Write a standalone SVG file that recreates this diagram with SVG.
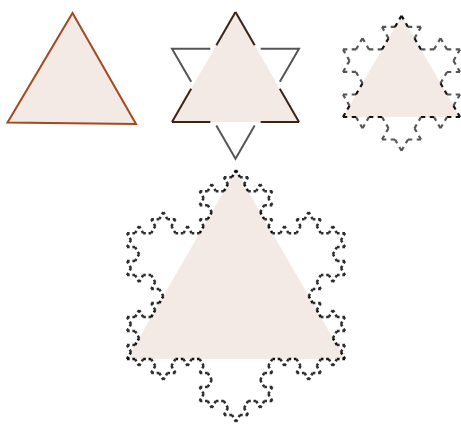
<svg xmlns="http://www.w3.org/2000/svg" xmlns:xlink="http://www.w3.org/1999/xlink" width="461" height="424" viewBox="0 0 461 424">
<style>
.fill{fill:#f3e9e5;stroke:none}
.dk1{stroke:#3a2214;stroke-width:2;fill:none;stroke-linecap:butt}
.gr1{stroke:#555;stroke-width:2;fill:none;stroke-linecap:butt}
.seg{fill:none;stroke-linecap:butt}
</style>
<defs>
<path id="k0" class="seg" d="M0,0 H0.33 M0.67,0 H1" vector-effect="non-scaling-stroke"/>
<g id="k1">
<use xlink:href="#k0" href="#k0" transform="scale(0.333333)"/>
<use xlink:href="#k0" href="#k0" transform="translate(0.333333,0) rotate(-60) scale(0.333333)" style="stroke:var(--off)"/>
<use xlink:href="#k0" href="#k0" transform="translate(0.5,-0.288675) rotate(60) scale(0.333333)" style="stroke:var(--off)"/>
<use xlink:href="#k0" href="#k0" transform="translate(0.666667,0) scale(0.333333)"/>
</g>
<g id="k2">
<use xlink:href="#k1" href="#k1" transform="scale(0.333333)"/>
<use xlink:href="#k1" href="#k1" transform="translate(0.333333,0) rotate(-60) scale(0.333333)" style="stroke:var(--off)"/>
<use xlink:href="#k1" href="#k1" transform="translate(0.5,-0.288675) rotate(60) scale(0.333333)" style="stroke:var(--off)"/>
<use xlink:href="#k1" href="#k1" transform="translate(0.666667,0) scale(0.333333)"/>
</g>
<g id="k3">
<use xlink:href="#k2" href="#k2" transform="scale(0.333333)"/>
<use xlink:href="#k2" href="#k2" transform="translate(0.333333,0) rotate(-60) scale(0.333333)" style="stroke:var(--off)"/>
<use xlink:href="#k2" href="#k2" transform="translate(0.5,-0.288675) rotate(60) scale(0.333333)" style="stroke:var(--off)"/>
<use xlink:href="#k2" href="#k2" transform="translate(0.666667,0) scale(0.333333)"/>
</g>
</defs>
<rect width="461" height="424" fill="#ffffff"/>

<g id="iter0">
<polygon points="72.5,13 136,124 7.5,122.5" fill="#f3e9e5" stroke="#a3481f" stroke-width="2" stroke-linejoin="miter"/>
</g>

<g id="iter1">
<polygon class="fill" points="235.5,12 299,122 172,122"/>
<line class="dk1" x1="235.5" y1="12" x2="254.67" y2="45.2"/>
<line class="dk1" x1="279.83" y1="88.8" x2="299" y2="122"/>
<line class="dk1" x1="299" y1="122" x2="260.67" y2="122"/>
<line class="dk1" x1="210.33" y1="122" x2="172" y2="122"/>
<line class="dk1" x1="172" y1="122" x2="191.17" y2="88.8"/>
<line class="dk1" x1="216.33" y1="45.2" x2="235.5" y2="12"/>
<polyline class="gr1" points="260.67,48.67 299,48.67 279.83,81.87"/>
<polyline class="gr1" points="254.67,125.46 235.5,158.66 216.33,125.46"/>
<polyline class="gr1" points="191.17,81.87 172,48.67 210.33,48.67"/>
</g>

<g id="iter2" style="stroke:#111;--off:#555;stroke-width:2.2">
<polygon class="fill" points="401.5,15.7 460,117 343,117"/>
<use xlink:href="#k2" href="#k2" transform="translate(401.5,15.7) rotate(60) scale(117)"/>
<use xlink:href="#k2" href="#k2" transform="translate(460,117) rotate(180) scale(117)"/>
<use xlink:href="#k2" href="#k2" transform="translate(343,117) rotate(-60) scale(117)"/>
</g>

<g id="iter3" style="stroke:#111;--off:#2e2e2e;stroke-width:2.5">
<polygon class="fill" points="236,170.2 345,359 127,359"/>
<use xlink:href="#k3" href="#k3" transform="translate(236,170.2) rotate(60) scale(218)"/>
<use xlink:href="#k3" href="#k3" transform="translate(345,359) rotate(180) scale(218)"/>
<use xlink:href="#k3" href="#k3" transform="translate(127,359) rotate(-60) scale(218)"/>
</g>
</svg>
